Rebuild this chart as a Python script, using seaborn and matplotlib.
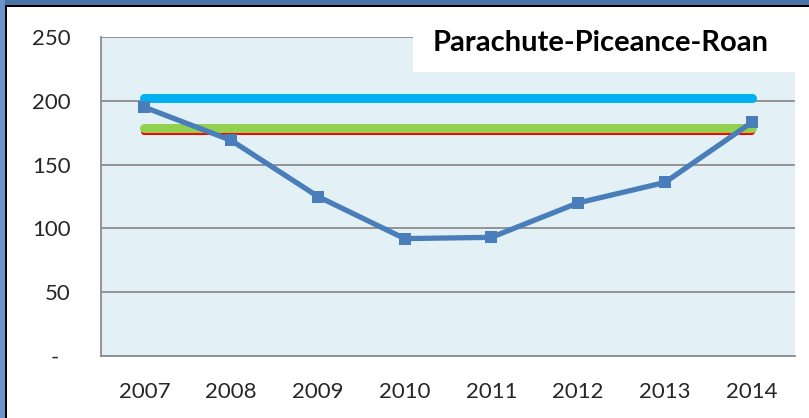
import matplotlib
matplotlib.use("Agg")
import matplotlib.pyplot as plt
import matplotlib.patches as mpatches
import seaborn as sns
import pandas as pd

# --- data ---
years = ["2007", "2008", "2009", "2010", "2011", "2012", "2013", "2014"]
production = [195, 169, 125, 92, 93, 120, 136, 183]
ref_cyan = [202] * len(years)
ref_green = [178.5] * len(years)
ref_red = [175.5] * len(years)
yticks = [0, 50, 100, 150, 200, 250]
ytick_labels = ["-  ", "50", "100", "150", "200", "250"]
title = "Parachute-Piceance-Roan"

df = pd.DataFrame({"year": years, "value": production,
                   "cyan": ref_cyan, "green": ref_green, "red": ref_red})

sns.set_style("white")
plt.rcParams["font.family"] = ["Lato", "DejaVu Sans"]

fig = plt.figure(figsize=(8.09, 4.18), dpi=100)
fig.patch.set_facecolor("white")
ax = fig.add_axes([101 / 809, 1 - 356 / 418, 694 / 809, 319 / 418])
ax.set_facecolor("#e3f1f7")

# reference lines (red under green)
sns.lineplot(data=df, x="year", y="red", ax=ax, color="#ff0000", lw=4.3,
             solid_capstyle="round", zorder=3)
sns.lineplot(data=df, x="year", y="green", ax=ax, color="#92d050", lw=6.5,
             solid_capstyle="round", zorder=4)
sns.lineplot(data=df, x="year", y="cyan", ax=ax, color="#00b0f0", lw=6.5,
             solid_capstyle="round", zorder=5)
sns.lineplot(data=df, x="year", y="value", ax=ax, color="#4a7ebb", lw=3.8,
             marker="s", markersize=8, markeredgewidth=0, zorder=6)

ax.set_xlim(-0.5, len(years) - 0.5)
ax.set_ylim(0, 250)
ax.set_xlabel("")
ax.set_ylabel("")

ax.set_yticks(yticks)
ax.set_yticklabels(ytick_labels, fontsize=16)
ax.set_xticks(range(len(years)))
ax.set_xticklabels(years, fontsize=16)
ax.set_xticks([i - 0.5 for i in range(len(years) + 1)], minor=True)
ax.tick_params(axis="x", which="major", length=0, pad=19)
ax.tick_params(axis="x", which="minor", length=6, width=1.2, color="#8c8c8c",
               direction="out")
ax.tick_params(axis="y", length=6, width=1.2, color="#8c8c8c", pad=16,
               direction="out")

ax.grid(axis="y", color="#8c8c8c", lw=1.3)
ax.set_axisbelow(True)
for s in ["top", "right"]:
    ax.spines[s].set_visible(False)
for s in ["left", "bottom"]:
    ax.spines[s].set_color("#8c8c8c")
    ax.spines[s].set_linewidth(1.3)

# white title box over the top-right of the plot
fig.patches.append(mpatches.Rectangle((413 / 809, 1 - 72 / 418), 396 / 809, 64 / 418,
                                      transform=fig.transFigure, facecolor="white",
                                      edgecolor="none", zorder=10))
fig.text(601 / 809, 1 - 43 / 418, title, ha="center", va="center",
         fontsize=21, fontweight="bold", color="black", zorder=11)

# outer frame: blue band + black line on top and left
fig.patches.append(mpatches.Rectangle((0, 1 - 5 / 418), 1, 5 / 418,
                                      transform=fig.transFigure, facecolor="#4a74a8",
                                      edgecolor="none", zorder=12))
fig.patches.append(mpatches.Rectangle((0, 0), 5 / 809, 1,
                                      transform=fig.transFigure, facecolor="#6a94cc",
                                      edgecolor="none", zorder=12))
fig.patches.append(mpatches.Rectangle((5 / 809, 1 - 7 / 418), 1, 2 / 418,
                                      transform=fig.transFigure, facecolor="black",
                                      edgecolor="none", zorder=12))
fig.patches.append(mpatches.Rectangle((5 / 809, 0), 2 / 809, 1 - 5 / 418,
                                      transform=fig.transFigure, facecolor="black",
                                      edgecolor="none", zorder=12))

fig.savefig("out.png", dpi=100)
